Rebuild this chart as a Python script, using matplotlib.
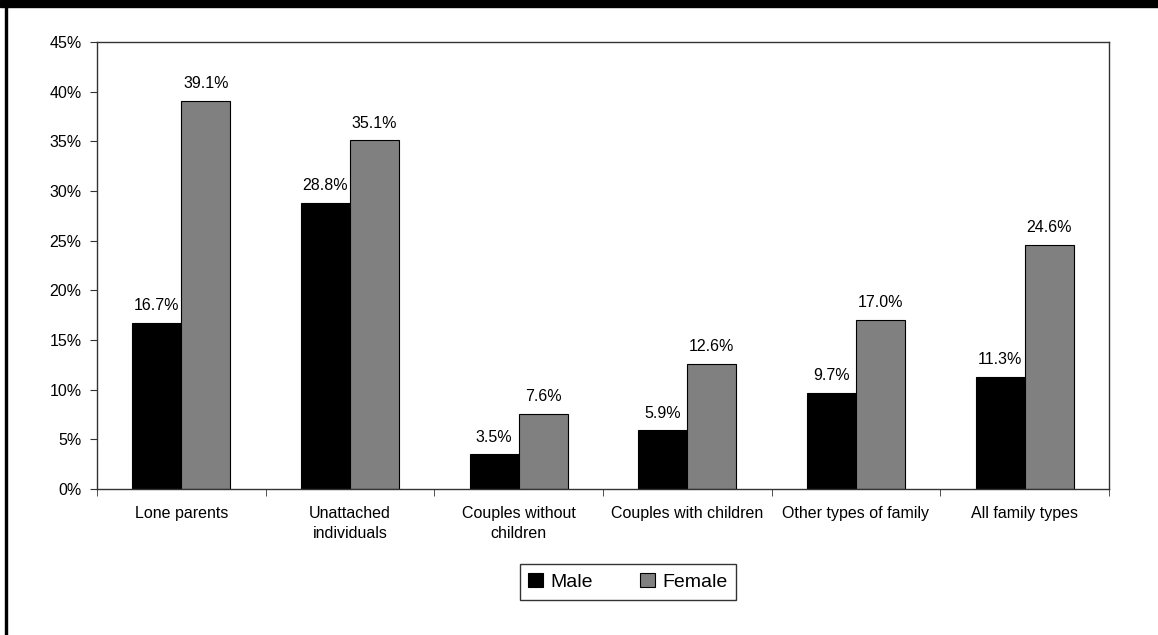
import numpy as np
import matplotlib
matplotlib.use("Agg")
import matplotlib.pyplot as plt
from matplotlib.patches import Rectangle

plt.rcParams['font.family'] = ['Liberation Sans', 'DejaVu Sans']

categories = ["Lone parents", "Unattached\nindividuals", "Couples without\nchildren",
              "Couples with children", "Other types of family", "All family types"]
male = [16.7, 28.8, 3.5, 5.9, 9.7, 11.3]
female = [39.1, 35.1, 7.6, 12.6, 17.0, 24.6]

W, H = 1158, 635
fig = plt.figure(figsize=(W / 100, H / 100), dpi=100)
ax = fig.add_axes([97 / W, 1 - 489 / H, (1109 - 97) / W, (489 - 42) / H])

x = np.arange(len(categories))
bw = 0.29
b1 = ax.bar(x - bw / 2, male, bw, color='black', edgecolor='black', linewidth=0.8, label='Male')
b2 = ax.bar(x + bw / 2, female, bw, color='#808080', edgecolor='black', linewidth=0.8, label='Female')

for bars, vals in ((b1, male), (b2, female)):
    for r, v in zip(bars, vals):
        ax.annotate(f"{v:.1f}%", (r.get_x() + r.get_width() / 2, v), xytext=(0, 7),
                    textcoords='offset points', ha='center', va='bottom', fontsize=11.5)

ax.set_xlim(-0.5, len(categories) - 0.5)
ax.set_ylim(0, 45)
ax.set_yticks(np.arange(0, 46, 5))
ax.set_yticklabels([f"{t}%" for t in range(0, 46, 5)], fontsize=11.5)
ax.set_xticks(x)
ax.set_xticklabels(categories, fontsize=11.5, linespacing=1.45)
ax.set_xticks(np.arange(-0.5, len(categories), 1), minor=True)
ax.tick_params(axis='x', which='major', length=0, pad=12)
ax.tick_params(axis='x', which='minor', length=5, color='#333333')
ax.tick_params(axis='y', length=5, color='#333333', pad=6)
for s in ax.spines.values():
    s.set_color('#333333')
    s.set_linewidth(1.0)

leg = fig.legend(loc='center', bbox_to_anchor=(628 / W, 1 - 582 / H), ncol=2, fontsize=14,
                 frameon=True, fancybox=False, edgecolor='black', handlelength=0.75,
                 handleheight=0.75, handletextpad=0.4, columnspacing=2.4, borderpad=0.45)
leg.get_frame().set_linewidth(1.0)

# black band on top and left border of the frame
fig.patches.append(Rectangle((0, 1 - 7 / H), 1, 7 / H, transform=fig.transFigure,
                             color='black', zorder=10))
fig.patches.append(Rectangle((5 / W, 0), 2 / W, 1, transform=fig.transFigure,
                             color='black', zorder=10))

fig.savefig("out.png", dpi=100)
